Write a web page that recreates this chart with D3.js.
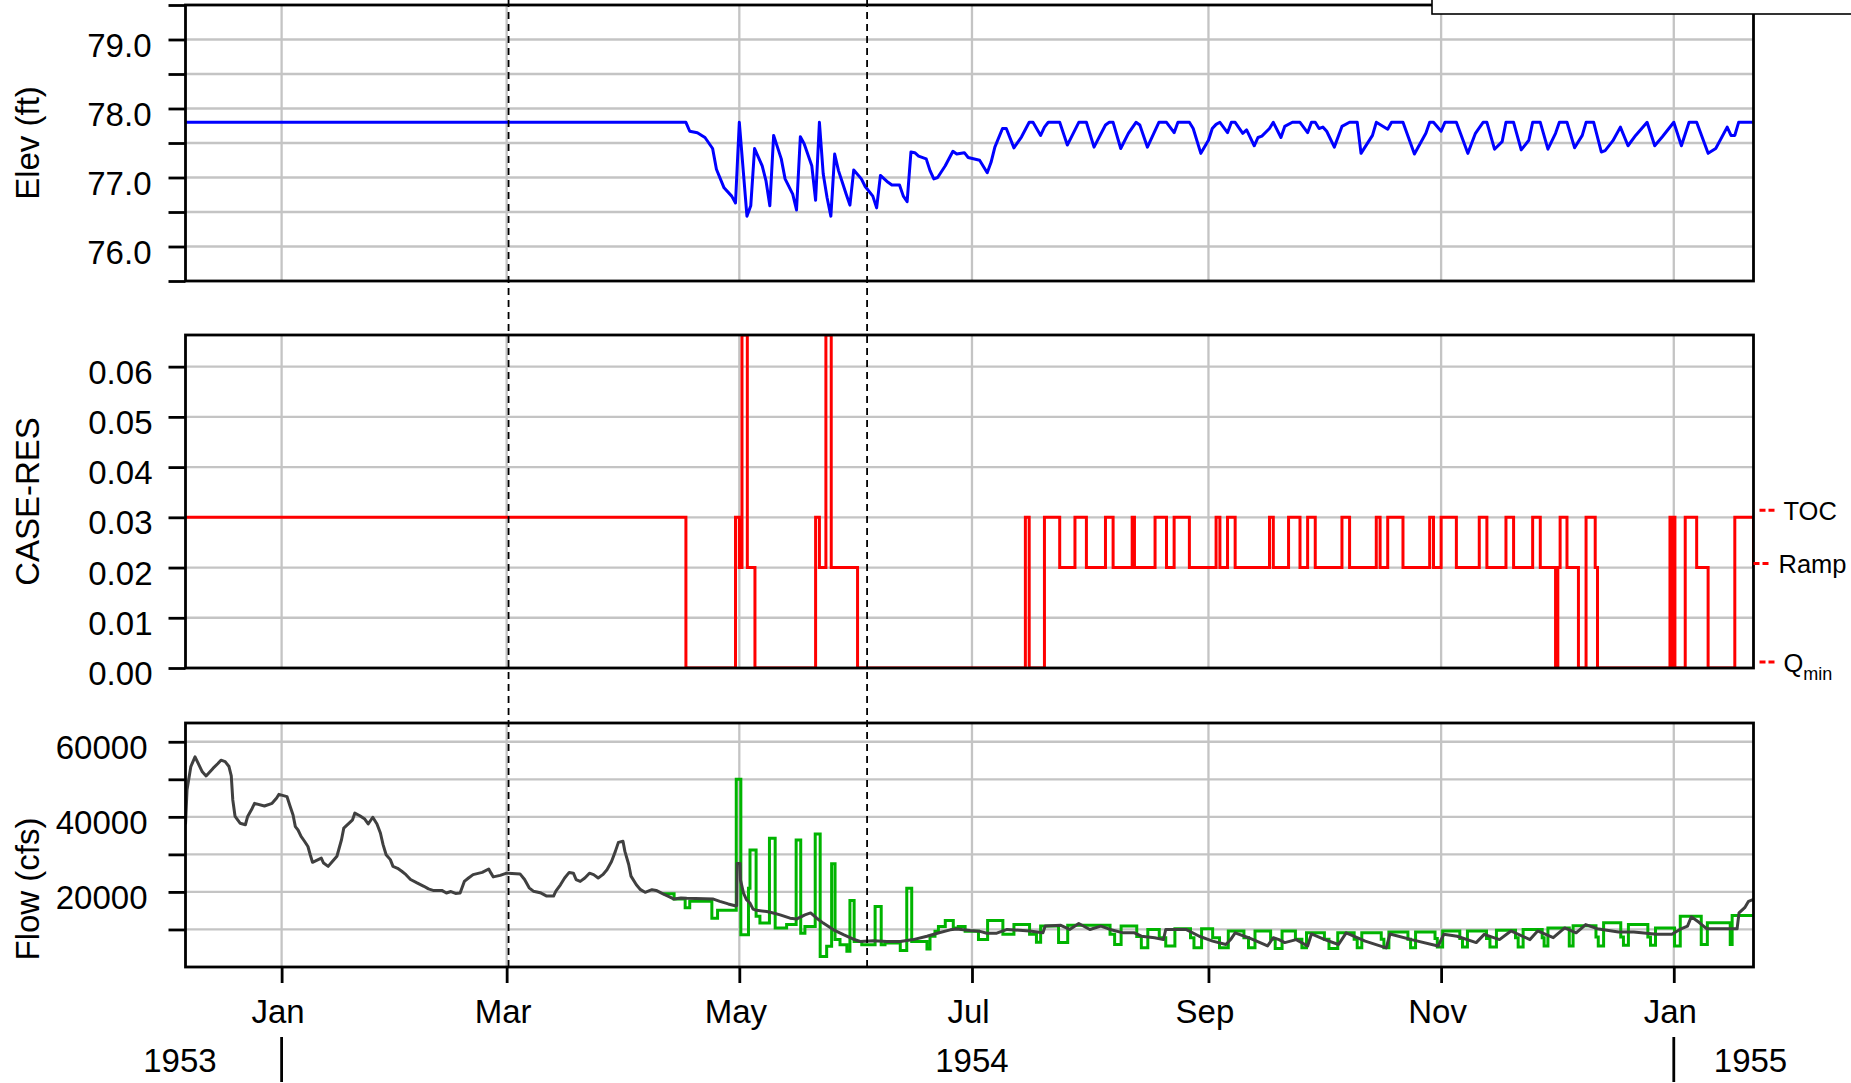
<!DOCTYPE html>
<html><head><meta charset="utf-8">
<script src="https://cdn.jsdelivr.net/npm/d3@7"></script>
<style>
body{margin:0;background:#fff}
svg{display:block}
text{font-family:"Liberation Sans",Arial,Helvetica,sans-serif;fill:#000}
</style>
</head><body>
<svg id="c" width="1851" height="1083"></svg>
<script>
// ---------------- DATA (day = days since 1954-01-01) ----------------
const elevSeries = [[-25.2,77.8],[106,77.8],[107,77.67],[109,77.65],[111,77.58],[113,77.42],[114,77.12],[116,76.85],[118,76.73],[119,76.63],[120,77.8],[122,76.44],[123,76.59],[124,77.42],[126,77.17],[127,76.95],[128,76.59],[129,77.61],[131,77.27],[132,76.98],[134,76.76],[135,76.53],[136,77.59],[137,77.49],[139,77.17],[140,76.67],[141,77.8],[142,77.05],[143,76.71],[144,76.44],[145,77.34],[146,77.1],[147,76.93],[148,76.76],[149,76.6],[150,77.11],[152,76.98],[153,76.87],[155,76.73],[156,76.56],[157,77.03],[159,76.93],[160,76.89],[162,76.89],[163,76.73],[164,76.65],[165,77.37],[166,77.36],[167,77.31],[169,77.27],[170,77.1],[171,76.98],[172,77.0],[174,77.17],[176,77.38],[177,77.34],[179,77.36],[180,77.29],[183,77.25],[185,77.07],[186,77.22],[187,77.44],[189,77.71],[190,77.71],[192,77.43],[194,77.59],[196,77.8],[197,77.8],[199,77.61],[200,77.73],[201,77.8],[204,77.8],[206,77.47],[209,77.8],[211,77.8],[213,77.44],[216,77.76],[217,77.8],[218,77.8],[220,77.42],[222,77.64],[224,77.8],[225,77.76],[227,77.44],[230,77.8],[232,77.8],[234,77.65],[235,77.8],[238,77.8],[239,77.71],[241,77.35],[243,77.54],[244,77.71],[245,77.77],[246,77.8],[248,77.65],[249,77.8],[250,77.8],[252,77.64],[253,77.69],[255,77.46],[256,77.58],[257,77.6],[259,77.71],[260,77.8],[262,77.58],[263,77.74],[265,77.8],[267,77.8],[269,77.65],[270,77.8],[271,77.8],[272,77.71],[273,77.73],[274,77.67],[276,77.44],[278,77.74],[280,77.8],[282,77.8],[283,77.35],[286,77.61],[287,77.8],[290,77.7],[291,77.8],[294,77.8],[297,77.34],[300,77.64],[301,77.8],[302,77.8],[304,77.67],[305,77.8],[308,77.8],[311,77.35],[313,77.64],[315,77.8],[316,77.8],[318,77.41],[320,77.52],[321,77.8],[323,77.8],[325,77.4],[327,77.54],[328,77.8],[330,77.8],[332,77.41],[334,77.64],[335,77.8],[337,77.8],[339,77.43],[341,77.61],[342,77.8],[344,77.8],[346,77.37],[347,77.39],[349,77.53],[351,77.73],[353,77.46],[355,77.61],[358,77.8],[360,77.46],[362,77.59],[365,77.8],[367,77.46],[369,77.8],[371,77.8],[374,77.35],[376,77.42],[379,77.73],[380,77.61],[381,77.61],[382,77.8],[385.9,77.8]];

const caseRes = [[-25.2,0.03],[106,0],[119,0.03],[120,0.02],[120.7,0.0663],[122.1,0.02],[124.1,0],[140,0.03],[141,0.02],[142.7,0.0663],[144.1,0.02],[151,0],[195,0.03],[196,0],[200,0.03],[204,0.02],[208,0.03],[211,0.02],[216,0.03],[218,0.02],[223,0.03],[223.6,0.02],[229,0.03],[232,0.02],[234,0.03],[238,0.02],[245,0.03],[246,0.02],[248,0.03],[250,0.02],[259,0.03],[260,0.02],[264,0.03],[267,0.02],[269,0.03],[271,0.02],[278,0.03],[280,0.02],[287,0.03],[288,0.02],[290,0.03],[294,0.02],[301,0.03],[302,0.02],[304,0.03],[308,0.02],[314,0.03],[316,0.02],[321,0.03],[323,0.02],[328,0.03],[330,0.02],[334,0],[334.6,0.02],[335.2,0.03],[337,0.02],[340,0],[342,0.03],[344.4,0.02],[345,0],[364,0.03],[364.5,0],[364.8,0.03],[365.3,0],[368,0.03],[371,0.02],[374,0],[381,0.03],[385.9,0.02]];

const inflow = [[-25.2,38000],[-24.8,47200],[-23.8,53400],[-22.7,56000],[-20.8,52000],[-19.8,50900],[-18.0,52900],[-16.7,54200],[-15.9,55100],[-14.8,54700],[-13.8,53400],[-13.2,50900],[-12.8,44500],[-12.2,40100],[-10.9,38300],[-9.5,37900],[-8.9,40100],[-7.7,42300],[-7.1,43600],[-4.5,42900],[-2.5,43600],[-1.3,45000],[-0.7,46000],[1.4,45400],[2.2,42900],[3.0,40500],[3.6,37400],[4.3,36500],[5.1,34800],[6,33500],[6.9,32100],[7.5,29900],[8.1,27900],[10.4,29000],[11,27700],[12.2,26800],[13.3,28100],[14.5,29500],[15.1,31700],[15.7,33900],[16.3,37000],[18.6,39200],[19.2,41000],[20.5,40300],[21.8,39400],[22.7,38100],[23.9,39900],[25.0,38100],[25.9,35700],[26.6,32600],[27.4,29900],[28.5,28600],[29.2,26800],[30.4,26300],[31.5,25500],[32.6,24600],[33.8,23300],[35.5,22400],[37.3,21500],[38.5,20800],[39.7,20400],[42,20400],[43.2,19700],[44.4,20100],[45.6,19600],[46.8,19700],[47.9,22800],[49,23700],[50.2,24600],[52.6,25200],[54.3,26100],[54.9,25000],[55.5,24000],[57.3,24400],[59.0,25000],[62.5,24800],[63.7,23300],[64.9,21100],[66.0,20200],[67.8,19800],[69.5,18900],[71.3,18900],[71.9,20200],[73.1,21900],[74.2,23700],[75.4,25200],[76.5,25000],[77.2,23300],[78.3,22800],[79.5,23700],[80.7,25000],[81.8,24600],[83.0,23700],[84.2,24600],[85.3,25900],[86.5,28100],[87.5,30800],[88.3,33200],[89.5,33500],[90.0,30800],[91.0,27300],[91.6,24200],[93.0,21900],[94.1,20600],[95.3,19900],[97.1,20600],[98.2,20400],[100.0,19500],[101.7,18700],[102.9,18100],[104.7,18400],[106.2,18300],[113.2,18100],[114.9,17500],[117.1,16800],[118.9,16300],[119.3,16300],[119.4,27600],[120.2,27600],[120.3,23200],[121.1,19700],[121.9,17900],[122.8,17000],[123.6,15400],[124.5,15100],[127.2,14800],[128.9,14400],[130.7,13900],[133.3,13000],[135.1,12800],[137.2,13900],[138.7,14400],[140.3,13000],[142.0,11700],[144.7,9900],[147.3,8600],[149.9,7400],[151.7,6800],[155.2,7000],[158.7,6800],[162.2,6800],[165.6,7300],[169.2,8200],[172.6,9200],[175.3,9900],[177.0,10100],[180.5,9700],[183.1,9500],[184.9,9000],[187.5,9000],[190.2,10000],[196.1,9600],[199.6,9100],[200.2,10900],[204.3,11100],[206.6,10000],[209,11600],[211.9,10000],[214.8,10900],[217.2,10000],[220.7,9100],[223.6,9100],[225.4,8200],[228.9,7800],[231.2,7300],[231.8,10000],[237.1,10000],[240.6,8200],[244.1,6900],[247.6,6000],[248.8,7300],[250,9100],[253.5,7800],[258.5,5600],[260,7800],[261.5,7300],[263,6500],[266,7300],[269,5600],[270,8800],[273.5,7300],[277.1,6000],[279.1,9100],[284.1,6900],[289.6,5100],[290.6,8800],[296.2,7300],[303.2,5600],[304.7,8700],[308.2,8200],[313.2,6500],[315.3,8700],[319.3,7300],[322.3,9600],[327.3,7300],[329.3,9600],[333.4,7800],[336.4,10400],[339.4,9100],[341.9,11300],[344.9,10200],[350.5,9300],[354.5,9300],[360.5,8700],[364.5,8700],[366.6,10000],[368.6,10900],[369.6,13400],[371.6,11900],[373.6,10200],[381.6,10200],[382.1,14400],[383.6,15800],[384.6,17500],[385.9,18000]];

const outflow = [[100.0,19500],[102.9,18100],[105.8,15800],[107,17500],[112.8,13000],[114.3,15100],[119.2,50000],[120.4,8600],[122.4,21000],[122.8,31200],[124.4,13500],[125.4,11700],[127.9,34300],[129.4,10400],[132.4,11300],[134.9,33800],[136.1,9000],[137.2,10800],[139.9,35400],[141.2,2800],[142.9,5500],[144.2,27500],[145.1,7300],[146.4,5900],[148.2,4200],[149.0,17700],[150.1,6800],[152.1,5900],[155.6,16100],[157.2,5900],[158.2,6400],[162.2,4400],[163.9,21000],[165.2,6800],[169.2,4800],[170.0,8200],[171.3,9500],[172.2,10800],[174.0,12400],[176.1,10400],[177.4,10800],[179.2,9500],[182.7,7300],[185.1,12400],[189.1,8700],[192,11300],[196.1,8700],[197.9,6600],[199,10900],[203.7,6500],[206.1,11100],[217.2,8700],[218.4,6000],[220.1,10900],[224.2,8100],[225.4,5100],[227.1,10000],[230.1,7800],[231.8,5600],[234.2,10200],[238.3,7800],[239.2,5100],[241.2,10200],[244.1,7800],[245.9,5100],[248.2,9600],[252.3,7800],[253.5,5100],[255.2,9600],[259.3,7400],[260.5,4900],[262.3,9600],[265.8,7400],[267.5,5100],[268.7,9100],[273.4,7400],[274.6,4900],[276.9,9100],[281.2,7400],[282.0,5100],[283.2,9100],[288.3,7400],[289.0,5100],[290.3,9300],[295.3,7400],[296.0,5100],[297.3,9300],[302.4,7600],[303.0,5300],[304.4,9600],[308.9,7600],[309.6,5300],[310.9,9600],[315.9,7600],[316.8,5300],[318.5,9800],[323.5,7800],[324.2,5300],[325.5,10000],[330.5,7800],[331.0,5600],[332.0,10400],[337.6,5600],[338.6,11000],[344.6,8000],[345.2,5600],[346.6,11800],[351.1,8000],[351.8,5800],[353.1,11300],[358.2,8000],[358.9,5800],[360.2,10400],[365.2,5600],[366.7,13500],[372.2,6000],[373.8,11800],[379.8,6000],[380.3,13700],[385.9,13700]];

const monthTicks = ["1954-01-01","1954-03-01","1954-05-01","1954-07-01","1954-09-01","1954-11-01","1955-01-01"];
const yearTicks = ["1954-01-01","1955-01-01"];
const yearLabels = ["1953","1954","1955"];
const yearLabelDates = ["1954-01-01","1954-07-01","1955-01-01"];
const eventDates = ["1954-03-01T12:00Z","1954-06-03T12:00Z"];
const elevTicks = [75.5,76,76.5,77,77.5,78,78.5,79,79.5];
const elevLabelled = [76,77,78,79];
const caseTicks = [0,0.01,0.02,0.03,0.04,0.05,0.06];
const flowTicks = [10000,20000,30000,40000,50000,60000];
const flowLabelled = [20000,40000,60000];
const flowMax = 65000;
const ruleLabels = [["TOC",0.03],["Ramp",0.02],["Q",0]];
const axisTitles = ["Elev (ft)","CASE-RES","Flow (cfs)"];

// ---------------- DRAWING ----------------
const day0 = Date.UTC(1954,0,1);
const toDate = d => new Date(day0 + d*864e5);
const parse = s => new Date(s.length===10 ? s+"T00:00:00Z" : s);

const svg = d3.select("#c");
const L = 185.5, R = 1753.5;
const P = [{t:5,b:281},{t:335,b:668},{t:723,b:967}];
const GRID = "#c4c4c4";
const LW = 3.0;
const FS = 33;

const x = d3.scaleUtc().domain(d3.extent(elevSeries, d => toDate(d[0]))).range([L,R]);
const yE = d3.scaleLinear().domain(d3.extent(elevTicks)).range([P[0].b,P[0].t]);
const yC = d3.scaleLinear().domain([0, d3.max(caseRes, d=>d[1])]).range([P[1].b,P[1].t]);
const yF = d3.scaleLinear().domain([0, flowMax]).range([P[2].b,P[2].t]);
const ys = [yE,yC,yF];
const tickSets = [elevTicks, caseTicks, flowTicks];

const defs = svg.append("defs");
P.forEach((p,i)=>{
  defs.append("clipPath").attr("id","clip"+i).append("rect")
    .attr("x",L).attr("y",p.t).attr("width",R-L).attr("height",p.b-p.t);
});

// gridlines
P.forEach((p,i)=>{
  const g = svg.append("g");
  g.selectAll("line.h").data(tickSets[i].filter(v => ys[i](v) > p.t+1 && ys[i](v) < p.b-1)).join("line")
    .attr("x1",L).attr("x2",R).attr("y1",v=>ys[i](v)).attr("y2",v=>ys[i](v))
    .attr("stroke",GRID).attr("stroke-width",2.3);
  g.selectAll("line.v").data(monthTicks.map(parse)).join("line")
    .attr("x1",d=>x(d)).attr("x2",d=>x(d)).attr("y1",p.t).attr("y2",p.b)
    .attr("stroke",GRID).attr("stroke-width",2.3);
});

// data lines
const lineE = d3.line().x(d=>x(toDate(d[0]))).y(d=>yE(d[1]));
svg.append("path").attr("clip-path","url(#clip0)").datum(elevSeries).attr("d",lineE)
  .attr("fill","none").attr("stroke","#0000ff").attr("stroke-width",LW).attr("stroke-linejoin","round");

const lineC = d3.line().curve(d3.curveStepAfter).x(d=>x(toDate(d[0]))).y(d=>yC(d[1]));
svg.append("path").attr("clip-path","url(#clip1)").datum(caseRes).attr("d",lineC)
  .attr("fill","none").attr("stroke","#ff0000").attr("stroke-width",LW);

const lineOut = d3.line().curve(d3.curveStepAfter).x(d=>x(toDate(d[0]))).y(d=>yF(d[1]));
svg.append("path").attr("clip-path","url(#clip2)").datum(outflow).attr("d",lineOut)
  .attr("fill","none").attr("stroke","#00b400").attr("stroke-width",LW);
const lineIn = d3.line().x(d=>x(toDate(d[0]))).y(d=>yF(d[1]));
svg.append("path").attr("clip-path","url(#clip2)").datum(inflow).attr("d",lineIn)
  .attr("fill","none").attr("stroke","#404040").attr("stroke-width",LW).attr("stroke-linejoin","round");

// event dashed lines
svg.append("g").selectAll("line").data(eventDates.map(parse)).join("line")
  .attr("x1",d=>x(d)).attr("x2",d=>x(d)).attr("y1",0).attr("y2",P[2].b)
  .attr("stroke","#000").attr("stroke-width",1.8).attr("stroke-dasharray","7,5");

// panel boxes
P.forEach(p=>{
  svg.append("rect").attr("x",L).attr("y",p.t).attr("width",R-L).attr("height",p.b-p.t)
    .attr("fill","none").attr("stroke","#000").attr("stroke-width",2.8);
});

// y axes
const fmts = [
  v => elevLabelled.includes(v) ? d3.format(".1f")(v) : "",
  v => d3.format(".2f")(v),
  v => flowLabelled.includes(v) ? d3.format("d")(v) : ""
];
const pads = [17,16,21];
P.forEach((p,i)=>{
  const ax = svg.append("g").attr("transform",`translate(${L},0)`)
    .call(d3.axisLeft(ys[i]).tickValues(tickSets[i]).tickSize(17).tickPadding(pads[i]).tickFormat(fmts[i]));
  ax.select(".domain").remove();
  ax.selectAll(".tick line").attr("stroke","#000").attr("stroke-width",2.8);
  ax.selectAll(".tick text").attr("font-size",FS).attr("dy","0.5em")
    .style("font-family","'Liberation Sans',Arial,sans-serif").attr("fill","#000");
});

// axis titles
const titleY = [ (P[0].t+P[0].b)/2, (P[1].t+P[1].b)/2, 889 ];
axisTitles.forEach((t,i)=>{
  svg.append("text").attr("transform",`translate(39,${titleY[i]}) rotate(-90)`)
    .attr("text-anchor","middle").attr("font-size",FS).text(t);
});

// bottom axis (months)
const bx = svg.append("g").attr("transform",`translate(0,${P[2].b})`)
  .call(d3.axisBottom(x).tickValues(monthTicks.map(parse)).tickSize(16).tickFormat(d3.utcFormat("%b")));
bx.select(".domain").remove();
bx.selectAll(".tick line").attr("stroke","#000").attr("stroke-width",2.8);
bx.selectAll(".tick text").attr("font-size",FS).attr("y",56).attr("dy",0).attr("x",-4)
  .style("font-family","'Liberation Sans',Arial,sans-serif").attr("fill","#000");

// year ticks & labels
svg.append("g").selectAll("line").data(yearTicks.map(parse)).join("line")
  .attr("x1",d=>x(d)).attr("x2",d=>x(d)).attr("y1",1037).attr("y2",1082)
  .attr("stroke","#000").attr("stroke-width",2.8);
yearLabels.forEach((t,i)=>{
  const xd = x(parse(yearLabelDates[i]));
  const anchor = i===0 ? "end" : (i===2 ? "start" : "middle");
  const off = i===0 ? -65 : (i===2 ? 40 : 0);
  svg.append("text").attr("x",xd+off).attr("y",1072).attr("text-anchor",anchor)
    .attr("font-size",FS).text(t);
});

// right-side rule labels for CASE-RES
const ruleOff = [-7,-4,-6];
ruleLabels.forEach((r,i)=>{
  const yy = yC(r[1]) + ruleOff[i];
  const x0 = i===1 ? R : R+6;
  svg.append("line").attr("x1",x0).attr("x2",x0+16).attr("y1",yy).attr("y2",yy)
    .attr("stroke","#ff0000").attr("stroke-width",3).attr("stroke-dasharray","6,3");
  const t = svg.append("text").attr("x", i===1 ? R+25 : R+30).attr("y",yy+9.5).attr("font-size",25.5);
  t.append("tspan").text(r[0]);
  if (r[0]==="Q") t.append("tspan").attr("font-size",18).attr("dy",8).text("min");
});

// legend box (mostly off-canvas at top right)
svg.append("rect").attr("x",1432).attr("y",-30).attr("width",460).attr("height",44)
  .attr("fill","#fff").attr("stroke","#000").attr("stroke-width",1.6);
</script>
</body></html>
